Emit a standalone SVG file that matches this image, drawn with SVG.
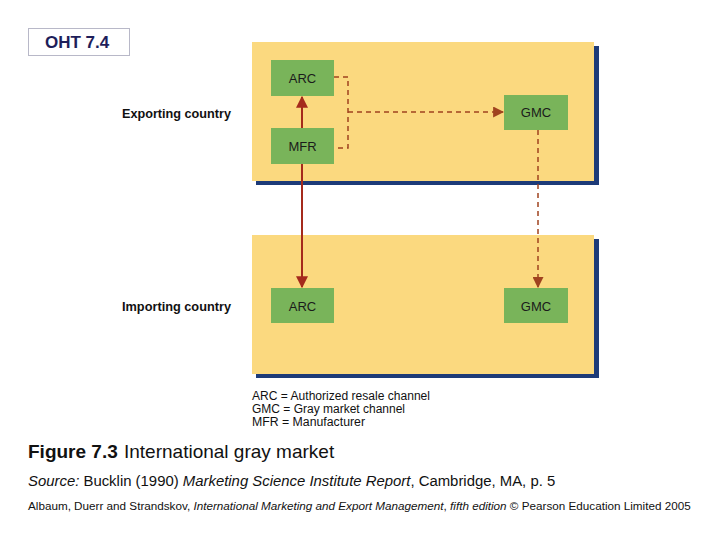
<svg xmlns="http://www.w3.org/2000/svg" width="720" height="540" viewBox="0 0 720 540">
<defs>
<style>
.panel{fill:#fbd97f}
.shadow{fill:#1d3b78}
.box{fill:#79b45a}
.bl{font-family:"Liberation Sans",Arial,sans-serif;font-size:13px;fill:#1b1b1b;text-anchor:middle}
.side{font-family:"Liberation Sans",Arial,sans-serif;font-size:13px;font-weight:bold;fill:#111;text-anchor:end}
.leg{font-family:"Liberation Sans",Arial,sans-serif;font-size:12px;fill:#111}
.solid{stroke:#a52a1c;stroke-width:2;fill:none}
.dash{stroke:#a0431f;stroke-width:1.5;stroke-dasharray:5,4;fill:none}
</style>
<marker id="ah" viewBox="0 0 10 10" refX="9" refY="5" markerWidth="12" markerHeight="12" markerUnits="userSpaceOnUse" orient="auto">
<path d="M0,0 L10,5 L0,10 z" fill="#a52a1c"/>
</marker>
<marker id="ahd" viewBox="0 0 10 10" refX="9" refY="5" markerWidth="11" markerHeight="11" markerUnits="userSpaceOnUse" orient="auto">
<path d="M0,0 L10,5 L0,10 z" fill="#a0431f"/>
</marker>
</defs>
<rect width="720" height="540" fill="#fff"/>

<g id="oht">
<rect x="28.5" y="28.5" width="101" height="27" fill="#fff" stroke="#b8b8c8" stroke-width="1"/>
<text x="45" y="48" font-family="Liberation Sans,Arial,sans-serif" font-size="17" font-weight="bold" fill="#1e1e5a">OHT 7.4</text>
</g>

<g id="exporting-panel">
<rect class="shadow" x="256" y="46" width="343" height="139"/>
<rect class="panel" x="252" y="42" width="342" height="139"/>
<text class="side" x="231" y="118" textLength="109" lengthAdjust="spacingAndGlyphs">Exporting country</text>
</g>
<g id="importing-panel">
<rect class="shadow" x="256" y="239" width="343" height="139"/>
<rect class="panel" x="252" y="235" width="342" height="139"/>
<text class="side" x="231" y="311" textLength="109" lengthAdjust="spacingAndGlyphs">Importing country</text>
</g>

<g id="arc-exp"><rect class="box" x="271" y="60" width="63" height="36"/><text class="bl" x="302.5" y="83">ARC</text></g>
<g id="mfr"><rect class="box" x="271" y="128" width="63" height="36"/><text class="bl" x="302.5" y="151">MFR</text></g>
<g id="gmc-exp"><rect class="box" x="504" y="95" width="64" height="35"/><text class="bl" x="536" y="117">GMC</text></g>
<g id="arc-imp"><rect class="box" x="271" y="288" width="63" height="35"/><text class="bl" x="302.5" y="311">ARC</text></g>
<g id="gmc-imp"><rect class="box" x="504" y="288" width="64" height="35"/><text class="bl" x="536" y="311">GMC</text></g>

<g id="connectors">
<line class="solid" x1="302" y1="128" x2="302" y2="97" marker-end="url(#ah)"/>
<line class="solid" x1="302" y1="164" x2="302" y2="287" marker-end="url(#ah)"/>
<polyline class="dash" points="334,77 348,77 348,148 334,148"/>
<line class="dash" x1="348" y1="112" x2="503" y2="112" marker-end="url(#ahd)"/>
<line class="dash" x1="538" y1="130" x2="538" y2="287" marker-end="url(#ahd)"/>
</g>

<g id="legend">
<text class="leg" x="252" y="400" textLength="178" lengthAdjust="spacingAndGlyphs">ARC = Authorized resale channel</text>
<text class="leg" x="252" y="413" textLength="153" lengthAdjust="spacingAndGlyphs">GMC = Gray market channel</text>
<text class="leg" x="252" y="426" textLength="113" lengthAdjust="spacingAndGlyphs">MFR = Manufacturer</text>
</g>

<g id="caption" font-family="Liberation Sans,Arial,sans-serif" fill="#111">
<text x="28" y="458" font-size="19"><tspan font-weight="bold">Figure 7.3</tspan><tspan x="124">International gray market</tspan></text>
<text x="28" y="486" font-size="14.9"><tspan font-style="italic">Source:</tspan> Bucklin (1990) <tspan font-style="italic">Marketing Science Institute Report</tspan>, Cambridge, MA, p. 5</text>
<text x="28" y="510" font-size="11.7">Albaum, Duerr and Strandskov, <tspan font-style="italic">International Marketing and Export Management</tspan>, <tspan font-style="italic">fifth edition</tspan> © Pearson Education Limited 2005</text>
</g>
</svg>
